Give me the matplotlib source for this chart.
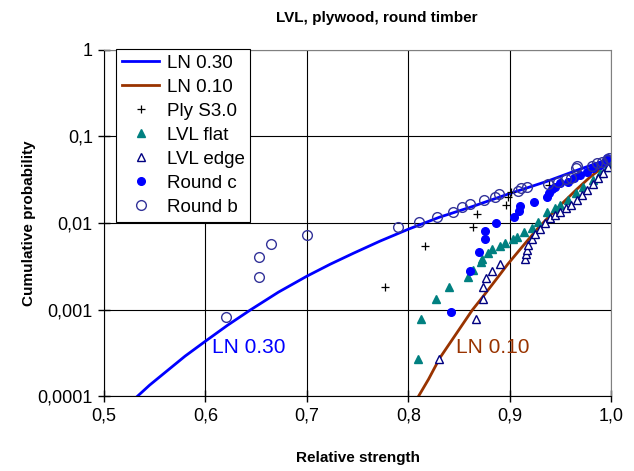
import matplotlib
matplotlib.use("Agg")
import matplotlib.pyplot as plt

plt.rcParams['font.family'] = ['Liberation Sans', 'DejaVu Sans']

# lognormal reference curves
ln30_x = [0.531, 0.545, 0.562, 0.580, 0.600, 0.622, 0.644, 0.672, 0.700, 0.723, 0.746,
          0.772, 0.800, 0.831, 0.861, 0.898, 0.937, 0.969, 1.000]
ln30_y = [9.48e-5, 1.34e-4, 1.95e-4, 2.90e-4, 4.31e-4, 6.61e-4, 9.84e-4, 1.59e-3, 2.43e-3,
          3.34e-3, 4.48e-3, 6.17e-3, 8.48e-3, 0.0117, 0.0152, 0.0215, 0.0304, 0.0418, 0.0560]
ln10_x = [0.809, 0.820, 0.831, 0.847, 0.863, 0.874, 0.886, 0.898, 0.912, 0.927, 0.940,
          0.953, 0.966, 0.979, 0.989, 1.000]
ln10_y = [9.48e-5, 1.57e-4, 2.75e-4, 5.20e-4, 9.84e-4, 1.43e-3, 2.18e-3, 3.34e-3, 5.26e-3,
          8.48e-3, 0.0123, 0.0174, 0.0245, 0.0338, 0.0418, 0.0531]

# test data
ply_x = [0.777, 0.816, 0.864, 0.868, 0.896, 0.898, 0.901, 0.939]
ply_y = [0.00182, 0.00540, 0.00895, 0.0127, 0.0161, 0.0199, 0.0227, 0.0273]

flat_x = [0.810, 0.813, 0.827, 0.840, 0.859, 0.864, 0.872, 0.873, 0.879, 0.883, 0.890, 0.895,
          0.903, 0.907, 0.914, 0.922, 0.928, 0.937, 0.945, 0.950, 0.957, 0.965, 0.972, 0.982,
          0.989, 0.996, 1.000]
flat_y = [0.000267, 0.000774, 0.00132, 0.00182, 0.00237, 0.00285, 0.00352, 0.00382, 0.00448,
          0.00498, 0.00540, 0.00585, 0.00650, 0.00686, 0.00783, 0.00871, 0.0102, 0.0133,
          0.0148, 0.0161, 0.0183, 0.0221, 0.0259, 0.0312, 0.0376, 0.0441, 0.0504]

edge_x = [0.830, 0.867, 0.874, 0.874, 0.877, 0.883, 0.890, 0.915, 0.916, 0.917, 0.918, 0.922,
          0.925, 0.930, 0.935, 0.940, 0.945, 0.950, 0.955, 0.960, 0.966, 0.971, 0.976, 0.982,
          0.987, 0.992, 0.997]
edge_y = [0.000267, 0.000774, 0.00132, 0.00182, 0.00231, 0.00277, 0.00334, 0.00382, 0.00437,
          0.00485, 0.00555, 0.00650, 0.00743, 0.00848, 0.00995, 0.0113, 0.0123, 0.0133,
          0.0148, 0.0161, 0.0183, 0.0209, 0.0239, 0.0281, 0.0329, 0.0376, 0.0441]

round_c_x = [0.842, 0.861, 0.870, 0.876, 0.876, 0.886, 0.904, 0.909, 0.910, 0.924, 0.937, 0.939,
             0.942, 0.945, 0.950, 0.957, 0.963, 0.969, 0.976, 0.982, 0.989, 0.994, 0.996]
round_c_y = [0.000933, 0.00277, 0.00460, 0.00650, 0.00804, 0.00995, 0.0117, 0.0137, 0.0156,
             0.0174, 0.0199, 0.0221, 0.0245, 0.0259, 0.0288, 0.0296, 0.0329, 0.0356, 0.0386,
             0.0430, 0.0465, 0.0504, 0.0560]

round_b_x = [0.620, 0.653, 0.653, 0.665, 0.700, 0.790, 0.811, 0.828, 0.844, 0.853, 0.861, 0.875,
             0.885, 0.889, 0.908, 0.911, 0.917, 0.938, 0.948, 0.955, 0.960, 0.965, 0.966, 0.981,
             0.986, 0.991, 0.996, 0.998]
round_b_y = [0.000817, 0.00237, 0.00403, 0.00569, 0.00723, 0.00895, 0.0102, 0.0117, 0.0133,
             0.0152, 0.0165, 0.0183, 0.0199, 0.0215, 0.0233, 0.0252, 0.0259, 0.0281, 0.0296,
             0.0321, 0.0329, 0.0430, 0.0453, 0.0453, 0.0491, 0.0504, 0.0531, 0.0560]

x_ticks = [0.5, 0.6, 0.7, 0.8, 0.9, 1.0]
x_tick_labels = ['0,5', '0,6', '0,7', '0,8', '0,9', '1,0']
y_ticks = [0.0001, 0.001, 0.01, 0.1, 1]
y_tick_labels = ['0,0001', '0,001', '0,01', '0,1', '1']

fig = plt.figure(figsize=(6.34, 4.71), dpi=100)
ax = fig.add_axes([0.164, 0.159, 0.800, 0.735])

ax.plot(ln30_x, ln30_y, color='#0000FF', lw=2, label='LN 0.30')
ax.plot(ln10_x, ln10_y, color='#993300', lw=2, label='LN 0.10')
ax.plot(ply_x, ply_y, ls='none', marker='+', ms=6, mew=0.9, color='black', label='Ply S3.0')
ax.plot(flat_x, flat_y, ls='none', marker='^', ms=5.5, color='#008080', mec='#008080',
        label='LVL flat')
ax.plot(edge_x, edge_y, ls='none', marker='^', ms=5.5, mfc='white', mec='#000080', mew=1,
        label='LVL edge')
ax.plot(round_c_x, round_c_y, ls='none', marker='o', ms=5.5, color='#0000FF', label='Round c')
ax.plot(round_b_x, round_b_y, ls='none', marker='o', ms=7, mfc='none', mec='#333399', mew=1,
        label='Round b')

ax.set_yscale('log')
ax.set_xlim(0.5, 1.0)
ax.set_ylim(0.0001, 1)
ax.set_xticks(x_ticks)
ax.set_xticklabels(x_tick_labels)
ax.set_yticks(y_ticks)
ax.set_yticklabels(y_tick_labels)
ax.minorticks_off()
ax.tick_params(direction='inout', length=9, width=1, labelsize=13, color='black')
ax.grid(True, color='black', lw=0.8)
ax.set_axisbelow(True)
for side in ['top', 'right']:
    ax.spines[side].set_color('#808080')
for side in ['left', 'bottom']:
    ax.spines[side].set_color('black')

ax.text(0.6065, 0.00036, 'LN 0.30', color='#0000FF', fontsize=15, ha='left', va='center')
ax.text(0.847, 0.00036, 'LN 0.10', color='#993300', fontsize=15, ha='left', va='center')

leg = ax.legend(loc='upper left', bbox_to_anchor=(0.024, 1.003), borderaxespad=0,
                fontsize=13.5, fancybox=False, framealpha=1, edgecolor='black',
                handlelength=2.0, handletextpad=0.4, labelspacing=0.37, borderpad=0.3)
leg.get_frame().set_linewidth(0.8)

ax.set_xlabel('Relative strength', fontsize=11, fontweight='bold', labelpad=19)
ax.set_ylabel('Cumulative probability', fontsize=11, fontweight='bold', labelpad=1)
fig.text(0.595, 0.962, 'LVL, plywood, round timber', fontsize=11, fontweight='bold',
         ha='center', va='center')

fig.savefig('out.png', dpi=100)
